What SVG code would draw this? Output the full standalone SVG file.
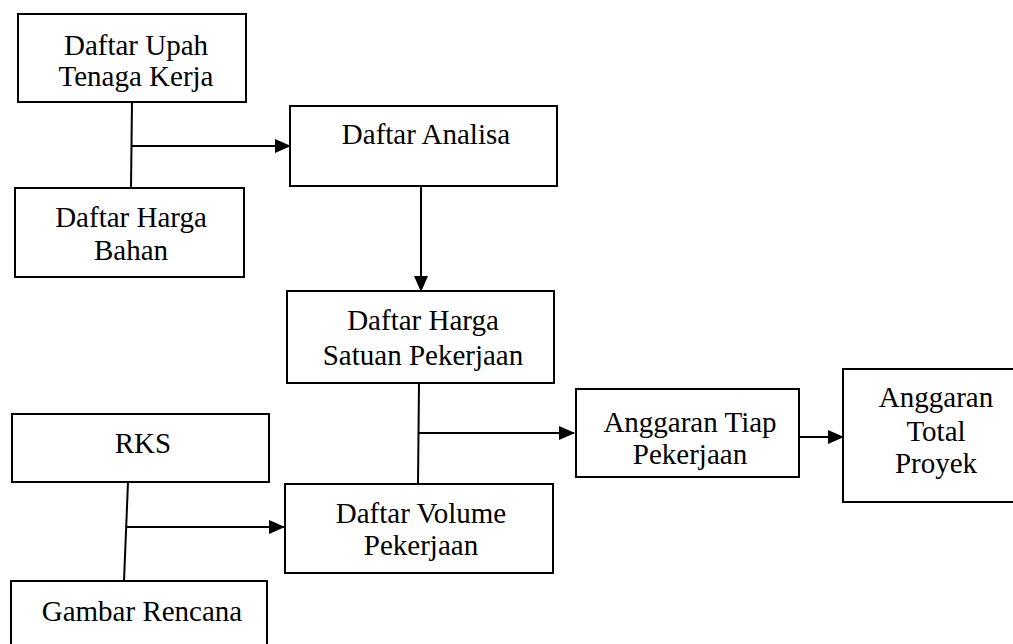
<svg xmlns="http://www.w3.org/2000/svg" width="1013" height="644" viewBox="0 0 1013 644">
<style>
.box{fill:#fff;stroke:#000;stroke-width:2}
.lbl{font-family:"Liberation Serif","Times New Roman",serif;font-size:29px;fill:#000;text-anchor:middle}
.ln{stroke:#000;stroke-width:2;fill:none}
</style>
<defs>
<marker id="ah" markerUnits="userSpaceOnUse" markerWidth="16" markerHeight="14" refX="15" refY="7" orient="auto">
<path d="M0,0 L16,7 L0,14 Z" fill="#000"/>
</marker>
</defs>
<rect width="1013" height="644" fill="#fff"/>
<g id="connectors">
<path class="ln" d="M132,102 L131,188"/>
<path class="ln" d="M132,146 L290,146" marker-end="url(#ah)"/>
<path class="ln" d="M421,186 L421,291" marker-end="url(#ah)"/>
<path class="ln" d="M419,383 L418,484"/>
<path class="ln" d="M419,433 L574,433" marker-end="url(#ah)"/>
<path class="ln" d="M799,437 L843,437" marker-end="url(#ah)"/>
<path class="ln" d="M128,482 L124,581"/>
<path class="ln" d="M126,527 L284,527" marker-end="url(#ah)"/>
</g>
<g id="upah">
<rect class="box" x="18" y="14" width="228" height="88"/>
<text class="lbl" x="136" y="55">Daftar Upah</text>
<text class="lbl" x="136" y="86">Tenaga Kerja</text>
</g>
<g id="bahan">
<rect class="box" x="15" y="188" width="229" height="89"/>
<text class="lbl" x="131" y="227">Daftar Harga</text>
<text class="lbl" x="131" y="260">Bahan</text>
</g>
<g id="analisa">
<rect class="box" x="290" y="106" width="267" height="80"/>
<text class="lbl" x="426" y="144">Daftar Analisa</text>
</g>
<g id="satuan">
<rect class="box" x="287" y="291" width="267" height="92"/>
<text class="lbl" x="423" y="330">Daftar Harga</text>
<text class="lbl" x="423" y="365">Satuan Pekerjaan</text>
</g>
<g id="tiap">
<rect class="box" x="576" y="389" width="223" height="88"/>
<text class="lbl" x="690" y="432">Anggaran Tiap</text>
<text class="lbl" x="690" y="464">Pekerjaan</text>
</g>
<g id="total">
<rect class="box" x="843" y="369" width="200" height="133"/>
<text class="lbl" x="936" y="407">Anggaran</text>
<text class="lbl" x="936" y="441">Total</text>
<text class="lbl" x="936" y="473">Proyek</text>
</g>
<g id="rks">
<rect class="box" x="12" y="414" width="257" height="68"/>
<text class="lbl" x="143" y="453">RKS</text>
</g>
<g id="volume">
<rect class="box" x="285" y="484" width="268" height="89"/>
<text class="lbl" x="421" y="523">Daftar Volume</text>
<text class="lbl" x="421" y="555">Pekerjaan</text>
</g>
<g id="gambar">
<rect class="box" x="11" y="581" width="256" height="80"/>
<text class="lbl" x="142" y="621">Gambar Rencana</text>
</g>
</svg>
